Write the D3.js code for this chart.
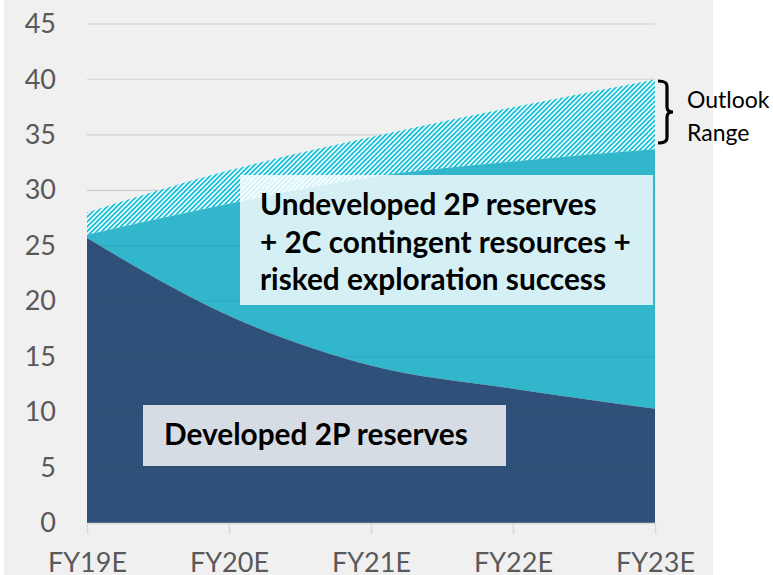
<!DOCTYPE html>
<html>
<head>
<meta charset="utf-8">
<script src="https://cdn.jsdelivr.net/npm/d3@7"></script>
<style>
    html, body { margin: 0; padding: 0; background: #ffffff; }
    svg { display: block; }
</style>
</head>
<body>
<svg id="chart" width="773" height="575"></svg>
<script>
const years = ["FY19E", "FY20E", "FY21E", "FY22E", "FY23E"];
const developed = [25.7, 18.7, 14.2, 12.1, 10.3];
const undevelopedTotal = [26.0, 28.8, 31.2, 32.6, 33.7];
const outlookTop = [28.0, 31.8, 34.8, 37.5, 40.0];
const yTicks = [0, 5, 10, 15, 20, 25, 30, 35, 40, 45];

const MARGIN = {top: 24, left: 87, right: 118, bottom: 52};
const W = 773, H = 575;

const svg = d3.select("#chart");

// chart background
svg.append("rect")
    .attr("x", 4).attr("y", 0)
    .attr("width", 709).attr("height", H)
    .attr("fill", "#f0f0f0");

const x = d3.scalePoint()
    .domain(years)
    .range([MARGIN.left, W - MARGIN.right]);

const y = d3.scaleLinear()
    .domain([0, 45])
    .range([H - MARGIN.bottom, MARGIN.top]);

const defs = svg.append("defs");
const pat = defs.append("pattern")
    .attr("id", "hatch")
    .attr("patternUnits", "userSpaceOnUse")
    .attr("width", 3.4).attr("height", 3.4)
    .attr("patternTransform", "rotate(45)");
pat.append("rect").attr("width", 3.4).attr("height", 3.4).attr("fill", "#ffffff");
pat.append("rect").attr("width", 1.8).attr("height", 3.4).attr("fill", "#12c0d8");

// gridlines
svg.append("g")
    .selectAll("line")
    .data(yTicks.filter(d => d > 0))
    .join("line")
    .attr("x1", x(years[0])).attr("x2", x(years[years.length - 1]))
    .attr("y1", d => y(d)).attr("y2", d => y(d))
    .attr("stroke", "#d9d9d9").attr("stroke-width", 1.3);

const curve = d3.curveMonotoneX;
const idx = d3.range(years.length);

const hatchArea = d3.area()
    .x(i => x(years[i]))
    .y0(i => y(undevelopedTotal[i]))
    .y1(i => y(outlookTop[i]))
    .curve(curve);

const tealArea = d3.area()
    .x(i => x(years[i]))
    .y0(i => y(developed[i]))
    .y1(i => y(undevelopedTotal[i]))
    .curve(curve);

const navyArea = d3.area()
    .x(i => x(years[i]))
    .y0(y(0))
    .y1(i => y(developed[i]))
    .curve(curve);

svg.append("path").datum(idx).attr("d", hatchArea).attr("fill", "url(#hatch)");
svg.append("path").datum(idx).attr("d", tealArea).attr("fill", "#31b6cb");
svg.append("path").datum(idx).attr("d", navyArea).attr("fill", "#2f5179");

// faint gridlines showing through the areas
svg.append("g")
    .selectAll("line")
    .data(yTicks.filter(d => d > 0 && d <= 35))
    .join("line")
    .attr("x1", x(years[0])).attr("x2", x(years[years.length - 1]))
    .attr("y1", d => y(d)).attr("y2", d => y(d))
    .attr("stroke", "#000").attr("stroke-opacity", 0.05).attr("stroke-width", 1.3);

// x axis
const xAxis = svg.append("g")
    .attr("transform", `translate(0, ${y(0)})`)
    .call(d3.axisBottom(x).tickSize(11).tickPadding(19).tickSizeOuter(0));
xAxis.select(".domain").attr("stroke", "#d9d9d9").attr("stroke-width", 1.5);
xAxis.selectAll(".tick line").attr("stroke", "#d9d9d9").attr("stroke-width", 1.5);
xAxis.selectAll(".tick text")
    .attr("fill", "#595959")
    .attr("font-family", "Lato, sans-serif")
    .attr("font-size", 27);

// y axis labels
const yAxis = svg.append("g")
    .attr("transform", "translate(56, 0)")
    .call(d3.axisLeft(y).tickValues(yTicks).tickSize(0).tickPadding(0));
yAxis.select(".domain").remove();
yAxis.selectAll(".tick text")
    .attr("fill", "#595959")
    .attr("font-family", "Lato, sans-serif")
    .attr("font-size", 27);

// label boxes
const labelFont = "Lato, sans-serif";
svg.append("rect")
    .attr("x", 240).attr("y", 175).attr("width", 413).attr("height", 130)
    .attr("fill", "#ffffff").attr("fill-opacity", 0.8);
const upper = svg.append("text")
    .attr("font-family", labelFont).attr("font-weight", 700)
    .attr("font-size", 29.8).attr("fill", "#000");
["Undeveloped 2P reserves", "+ 2C contingent resources +", "risked exploration success"]
    .forEach((t, i) => {
        upper.append("tspan").attr("x", 260).attr("y", 215 + i * 37.5).text(t);
    });

svg.append("rect")
    .attr("x", 143).attr("y", 405).attr("width", 363).attr("height", 61)
    .attr("fill", "#ffffff").attr("fill-opacity", 0.8);
svg.append("text")
    .attr("x", 164).attr("y", 445)
    .attr("font-family", labelFont).attr("font-weight", 700)
    .attr("font-size", 29.8).attr("fill", "#000")
    .text("Developed 2P reserves");

// outlook range brace
svg.append("path")
    .attr("d", "M658,81 Q667,81 667,86 L667,107 Q667,112 673,112 Q667,112 667,117 L667,138 Q667,143 658,143")
    .attr("fill", "none").attr("stroke", "#000").attr("stroke-width", 3.2);
const outlook = svg.append("text")
    .attr("font-family", "Lato, sans-serif").attr("font-size", 23).attr("fill", "#000");
outlook.append("tspan").attr("x", 687).attr("y", 108).text("Outlook");
outlook.append("tspan").attr("x", 687).attr("y", 141).text("Range");
</script>
</body>
</html>
